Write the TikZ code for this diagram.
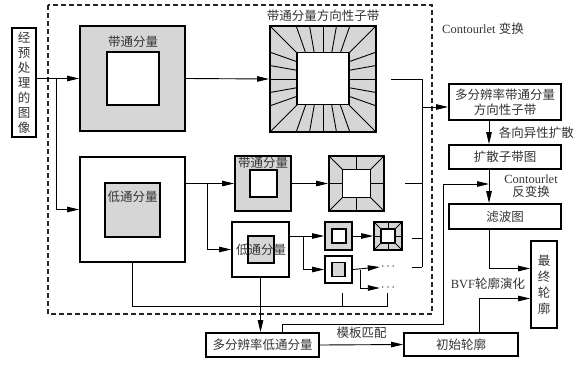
\documentclass[tikz,border=0pt]{standalone}
\usepackage{fontspec}
\setmainfont{Liberation Serif}
\newfontfamily\cjk{Noto Sans CJK SC}
\usetikzlibrary{arrows.meta,calc}

\tikzset{
  txt/.style={font=\cjk\fontsize{12.5}{15}\selectfont, text=black!80},
  box/.style={draw, line width=1.8pt, inner sep=0pt, align=center, txt},
  bandbox/.style={draw, line width=1.8pt, fill=black!16, inner sep=0pt},
  lowbox/.style={draw, line width=1.8pt, fill=white, inner sep=0pt},
  link/.style={line width=0.9pt},
  flow/.style={link, -{Triangle[length=12pt,width=5.5pt]}},
}

\begin{document}
\begin{tikzpicture}[x=1pt, y=-1pt]
  \useasboundingbox (0,0) rectangle (585,364);

  % Contourlet frame
  \draw[dash pattern=on 5pt off 3pt, line width=1.1pt, black!85] (48,5) rectangle (432,314);
  \node[font=\fontsize{12.5}{15}\selectfont, text=black!80] at (483,29) {Contourlet {\cjk 变换}};

  % Input
  \node[box, minimum width=24pt, minimum height=109pt, font=\cjk\fontsize{12.5}{15}\selectfont] (in) at (24,82.5) {经\\预\\处\\理\\的\\图\\像};

  % First level
  \node[bandbox, minimum width=105pt, minimum height=105pt] (bp) at (132.5,78.5) {};
  \node[lowbox, minimum width=52pt, minimum height=53pt] (bpi) at (133,78.5) {};
  \node[txt] at (133,42) {带通分量};

  \node[bandbox, minimum width=106pt, minimum height=106pt] (dir) at (323,79) {};
  \foreach \s in {-17.3,-8.7,0,8.7,17.3} {
    \draw[link] ($(dir)+(\s,-26)$) -- ($(dir)+({1.55*\s},-53)$);
    \draw[link] ($(dir)+(\s,26)$) -- ($(dir)+({1.55*\s},53)$);
    \draw[link] ($(dir)+(-26,\s)$) -- ($(dir)+(-53,{1.55*\s})$);
    \draw[link] ($(dir)+(26,\s)$) -- ($(dir)+(53,{1.55*\s})$);
  }
  \foreach \a/\b in {-1/-1,1/-1,1/1,-1/1}
    \draw[link] ($(dir)+({26*\a},{26*\b})$) -- ($(dir)+({53*\a},{53*\b})$);
  \node[lowbox, minimum width=52pt, minimum height=52pt] (diri) at (323,78.5) {};
  \node[txt] at (323,16) {带通分量方向性子带};

  \node[lowbox, minimum width=105pt, minimum height=105pt] (lp) at (132.5,209.5) {};
  \node[bandbox, minimum width=55pt, minimum height=54pt] (lpi) at (132.5,210) {};
  \node[txt] at (132.5,197) {低通分量};

  % Second level
  \node[bandbox, minimum width=56pt, minimum height=55pt] (sbp) at (263,183.5) {};
  \node[lowbox, minimum width=27pt, minimum height=27pt] (sbpi) at (263.5,183.5) {};
  \node[txt] at (263,163) {带通分量};

  \node[bandbox, minimum width=55pt, minimum height=55pt] (sdir) at (356.5,183.5) {};
  \foreach \a/\b in {-1/-1,1/-1,1/1,-1/1,0/-1,0/1,-1/0,1/0}
    \draw[link] ($(sdir)+({14*\a},{14*\b})$) -- ($(sdir)+({27.5*\a},{27.5*\b})$);
  \node[lowbox, minimum width=28pt, minimum height=28pt] (sdiri) at (356.5,183.5) {};

  \node[lowbox, minimum width=57pt, minimum height=55pt] (slp) at (260.5,249.5) {};
  \node[bandbox, minimum width=26pt, minimum height=27pt] (slpi) at (261,249.5) {};
  \node[txt] at (261,250) {低通分量};

  % Third level
  \node[bandbox, minimum width=27pt, minimum height=28pt] (tbp) at (338.5,236) {};
  \node[lowbox, minimum width=14pt, minimum height=14pt] (tbpi) at (339,236) {};

  \node[bandbox, minimum width=28pt, minimum height=28pt] (tdir) at (388,236) {};
  \foreach \a/\b in {-1/-1,1/-1,1/1,-1/1,0/-1,0/1,-1/0,1/0}
    \draw[link] ($(tdir)+({7*\a},{7*\b})$) -- ($(tdir)+({14*\a},{14*\b})$);
  \node[lowbox, minimum width=14pt, minimum height=14pt] (tdiri) at (388,236) {};

  \node[lowbox, minimum width=27pt, minimum height=27pt] (tlp) at (338.5,269.5) {};
  \node[bandbox, minimum width=13pt, minimum height=14pt] (tlpi) at (338.5,269.5) {};

  \node[inner sep=1pt, font=\large] (dots1) at (388,267) {$\cdots$};
  \node[inner sep=1pt, font=\large] (dots2) at (388,288) {$\cdots$};

  % Right column
  \node[box, minimum width=112pt, minimum height=36pt] (ms) at (505,102) {多分辨率带通分量\\方向性子带};
  \node[box, minimum width=112pt, minimum height=24pt] (kz) at (505,157) {扩散子带图};
  \node[box, minimum width=112pt, minimum height=25pt] (lb) at (505,216.5) {滤波图};
  \node[box, minimum width=26pt, minimum height=87pt, font=\cjk\fontsize{12.5}{16}\selectfont] (zz) at (544,284.5) {最\\终\\轮\\廓};
  \node[box, minimum width=114pt, minimum height=23pt] (cs) at (461,344.5) {初始轮廓};
  \node[box, minimum width=113pt, minimum height=24pt] (mlp) at (262.5,345) {多分辨率低通分量};

  % Helper points
  \coordinate (j1) at (56,78.5);
  \coordinate (j2) at (207,183.5);
  \coordinate (j3) at (303,236);
  \coordinate (j4) at (360,269.5);
  \coordinate (d0) at (391,79);
  \coordinate (b1) at (422,79);
  \coordinate (b4) at (422,267);
  \coordinate (e1) at (405,183.5);
  \coordinate (e2) at (412,238);
  \coordinate (e3) at (412,267);
  \coordinate (s1) at (342,293);
  \coordinate (s2) at (387,293);
  \coordinate (bl) at (387,306);
  \coordinate (m1) at (282,324);
  \coordinate (m2) at (443,184);
  \coordinate (v) at (489,0);

  % Decomposition flow
  \draw[flow] (in.east |- bp.west) -- (bp.west);
  \draw[flow] (j1) |- (lp.west);
  \draw[flow] (bp.east) -- (dir.west);
  \draw[flow] (lp.east |- sbp.west) -- (sbp.west);
  \draw[flow] (j2) |- (slp.west);
  \draw[flow] (sbp.east) -- (sdir.west);
  \draw[flow] (slp.east |- tbp.west) -- (tbp.west);
  \draw[flow] (j3) |- (tlp.west);
  \draw[flow] (tbp.east) -- (tdir.west);
  \draw[flow] (tlp.east) -- (dots1.west);
  \draw[flow] (j4) |- (dots2.west);

  % Bandpass bus
  \draw[link] (d0) -- (b1) -- (b4);
  \draw[link] (e1) -- (e1 -| b1);
  \draw[link] (e2) -- (e2 -| b1);
  \draw[link] (e3) -- (e3 -| b1);
  \draw[flow] ($(ms.west -| b1)+(0,5)$) -- ($(ms.west)+(0,5)$);

  % Lowpass bus
  \draw[link] (lp.south) |- (bl) -- (s2);
  \draw[link] (s1) -- (s1 |- bl);
  \draw[flow] (slp.south) -- (slp.south |- mlp.north);

  % Processing chain
  \draw[flow] (ms.south -| v) -- (kz.north -| v)
    node[midway, right=6pt, txt] {各向异性扩散};
  \draw[flow] (kz.south -| v) -- (lb.north -| v);
  \node[font=\fontsize{12.5}{15}\selectfont, text=black!80, align=center] at (531,186)
    {Contourlet\\[-2pt]{\cjk 反变换}};
  \draw[flow] (m1 |- mlp.north) -- (m1) -| (m2) -- (m2 -| v);
  \draw[flow] (lb.south -| v) |- ($(zz.west)+(0,-16)$);
  \draw[flow] ($(cs.north)+(18,0)$) |- ($(zz.west)+(0,14)$);
  \node[font=\fontsize{12.5}{15}\selectfont, text=black!80] at (488,284) {BVF{\cjk 轮廓演化}};
  \draw[flow] (mlp.east) -- (cs.west)
    node[midway, above=2pt, txt] {模板匹配};
\end{tikzpicture}
\end{document}
